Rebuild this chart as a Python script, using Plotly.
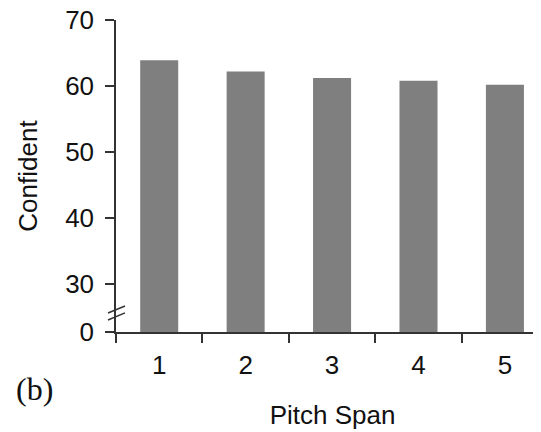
import plotly.graph_objects as go

# Data
categories = ["1", "2", "3", "4", "5"]
confident = [63.9, 62.2, 61.2, 60.8, 60.2]

# Broken axis: ticks shown 30..70 plus 0 placed below the break
y_break_pos = 22.73   # display position used for the "0" label
y_tick_vals = [y_break_pos, 30, 40, 50, 60, 70]
y_tick_text = ["0", "30", "40", "50", "60", "70"]

W, H = 541, 432
# page body adds an 8px offset, margins compensate for it
ml, mr, mt, mb = 108, 0, 12, 108

fig = go.Figure()
fig.add_trace(go.Bar(
    x=categories, y=confident,
    marker=dict(color="#7f7f7f", line=dict(width=0)),
    width=0.44,
    hoverinfo="x+y",
))

axis_color = "#333333"
font_sans = "Liberation Sans, Arial, Helvetica, sans-serif"

fig.update_layout(
    width=W, height=H,
    margin=dict(l=ml, r=mr, t=mt, b=mb, pad=0),
    plot_bgcolor="white", paper_bgcolor="white",
    showlegend=False,
    font=dict(family=font_sans, size=26, color="#111111"),
    xaxis=dict(
        type="category",
        range=[-0.5, 4.51],
        automargin=False,
        showline=True, linecolor=axis_color, linewidth=1.5,
        ticks="outside", ticklen=9, tickwidth=1.5, tickcolor=axis_color,
        tickson="boundaries",
        showgrid=False, zeroline=False,
        tickfont=dict(size=26),
        ticklabelstandoff=9,
        ticklabeloverflow="allow",
        title=dict(text="Pitch Span", font=dict(size=26), standoff=27),
    ),
    yaxis=dict(
        range=[y_break_pos, 70],
        automargin=False,
        tickvals=y_tick_vals, ticktext=y_tick_text,
        showline=True, linecolor=axis_color, linewidth=1.5,
        ticks="outside", ticklen=9, tickwidth=1.5, tickcolor=axis_color,
        showgrid=False, zeroline=False,
        tickfont=dict(size=26),
        ticklabelstandoff=6,
        ticklabeloverflow="allow",
        title=dict(text="Confident", font=dict(size=26), standoff=20),
    ),
)

# Axis-break marks (//)
for y0, y1 in [(25.6, 26.67), (24.55, 25.62)]:
    fig.add_shape(
        type="line", xref="paper", yref="y",
        xsizemode="pixel", xanchor=0,
        x0=-8, x1=9, y0=y0, y1=y1,
        line=dict(color=axis_color, width=1.5),
    )

fig.add_annotation(
    text="(b)", xref="paper", yref="paper",
    x=-0.189, y=-0.183, xanchor="center", yanchor="middle",
    showarrow=False,
    font=dict(family="Liberation Serif, Times New Roman, serif", size=32, color="#111111"),
)

fig.write_html("out.html")
